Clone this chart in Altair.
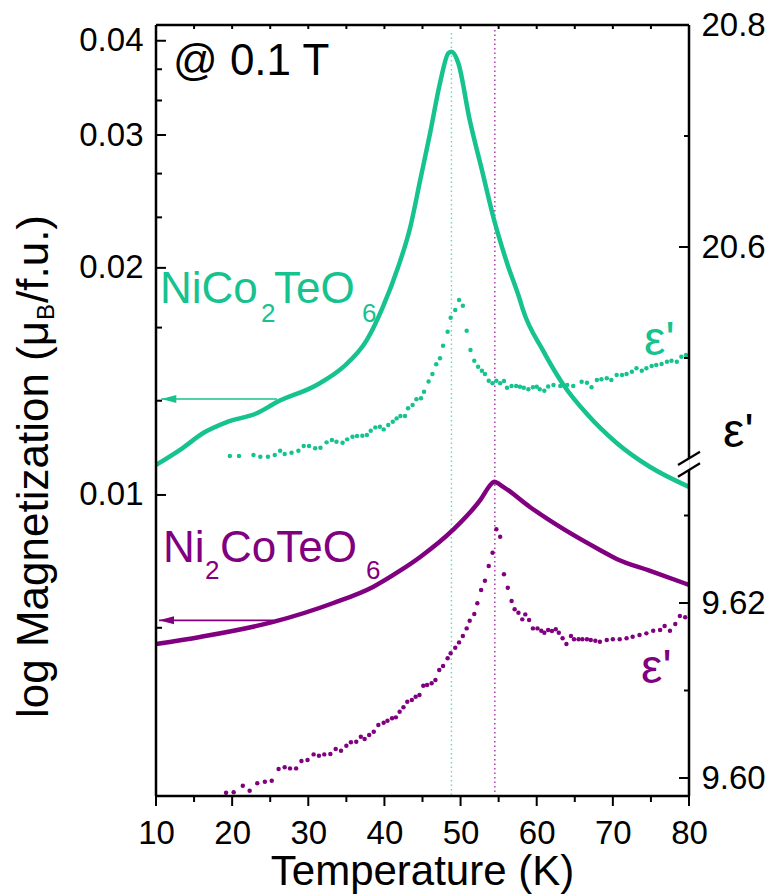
import altair as alt
import pandas as pd

# ---------------- data ----------------
# Magnetization (log scale, left axis), NiCo2TeO6
T_NICO_M = [10, 13.5, 16.2, 19.3, 23.3, 25.9, 31.1, 34.6, 37.7, 39.8, 41.8, 43.4, 44.7, 46.0,
            47.3, 48.4, 48.8, 49.7, 51.2, 52.8, 54.3, 56.1, 57.8, 58.2, 60.8, 63.5, 66.6, 70.5, 74.9, 80]
M_NICO = [0.01096, 0.01154, 0.01208, 0.01249, 0.01284, 0.01328, 0.01399, 0.01478, 0.01605, 0.01775,
          0.02005, 0.02266, 0.02615, 0.03018, 0.03516, 0.03852, 0.03868, 0.03737, 0.0314, 0.02697,
          0.02336, 0.0203, 0.01813, 0.01759, 0.01556, 0.01400, 0.01280, 0.01172, 0.01089, 0.01025]

# Magnetization, Ni2CoTeO6
T_NI2_M = [10, 15.8, 25.4, 33.3, 38.5, 42.0, 44.7, 49.0, 52.6, 54.1, 54.4, 55.6, 59.1, 63.7,
           68.3, 70.5, 74.9, 80]
M_NI2 = [0.006347, 0.006484, 0.006787, 0.007191, 0.007553, 0.00793, 0.008276, 0.008987, 0.009849,
         0.01036, 0.01041, 0.01025, 0.00964, 0.008987, 0.008454, 0.008226, 0.007931, 0.00760]

# Dielectric constant eps' of NiCo2TeO6 (upper segment of right axis)
T_NICO_EPS = [19.7, 20.9, 22.8, 23.7, 24.7, 25.6, 26.3, 26.9, 27.8, 28.7, 29.4, 30.1, 30.9, 31.6,
              32.4, 33.1, 33.7, 34.5, 35.1, 35.8, 36.4, 37.1, 37.7, 38.2, 38.8, 39.4, 39.9, 40.5,
              41.1, 41.6, 42.1, 42.7, 43.1, 43.7, 44.2, 44.8, 45.2, 45.8, 46.3, 46.8, 47.3, 47.7,
              48.3, 48.7, 49.3, 49.8, 50.3, 50.8, 51.3, 51.8, 52.3, 52.8, 53.2, 53.7, 54.2, 54.7,
              55.2, 55.7, 56.1, 56.7, 57.3, 57.8, 58.3, 58.9, 59.5, 60.0, 60.4, 61.0, 61.5, 62.2,
              63.1, 64.0, 64.8, 65.9, 66.6, 67.2, 67.9, 68.5, 69.2, 69.8, 70.5, 71.2, 71.8, 72.5,
              73.1, 73.8, 74.4, 75.1, 75.7, 76.4, 77.1, 77.7, 78.4, 79.0, 79.6]
EPS_NICO = [20.4117, 20.4117, 20.4126, 20.4111, 20.4111, 20.4126, 20.4165, 20.4135, 20.4147, 20.4165,
            20.4207, 20.4207, 20.4186, 20.4192, 20.4240, 20.4261, 20.4246, 20.4237, 20.4267, 20.4291,
            20.4297, 20.4300, 20.4306, 20.4345, 20.4375, 20.4381, 20.4357, 20.4396, 20.4426, 20.4456,
            20.4477, 20.4477, 20.4547, 20.4576, 20.4628, 20.4637, 20.4696, 20.4788, 20.4856, 20.4943,
            20.4997, 20.5111, 20.5237, 20.5363, 20.5432, 20.5522, 20.5471, 20.5246, 20.5072, 20.4975,
            20.4921, 20.4885, 20.4856, 20.4795, 20.4772, 20.4795, 20.4772, 20.4793, 20.4732, 20.4748,
            20.4748, 20.4741, 20.4732, 20.4718, 20.4736, 20.4741, 20.4718, 20.4705, 20.4743, 20.4757,
            20.4748, 20.4757, 20.4748, 20.4786, 20.4777, 20.4736, 20.4802, 20.4808, 20.4817, 20.4802,
            20.4847, 20.4847, 20.4856, 20.4876, 20.4907, 20.4885, 20.4907, 20.4928, 20.4937, 20.4946,
            20.4966, 20.4975, 20.4966, 20.5012, 20.5027]

# Dielectric constant eps' of Ni2CoTeO6 (lower segment of right axis)
T_NI2_EPS = [19.2, 20.2, 21.4, 22.3, 23.3, 24.3, 25.2, 26.1, 26.9, 27.6, 28.4, 29.1, 29.9, 30.7,
             31.4, 32.1, 32.9, 33.6, 34.3, 35.0, 35.6, 36.3, 36.9, 37.4, 38.0, 38.6, 39.2, 39.9,
             40.4, 41.0, 41.5, 42.0, 42.5, 43.0, 43.6, 44.1, 44.6, 45.1, 45.6, 46.2, 46.7, 47.2,
             47.7, 48.3, 48.7, 49.3, 49.8, 50.3, 50.8, 51.2, 51.8, 52.2, 52.7, 53.2, 53.7, 54.2,
             54.7, 55.2, 55.7, 56.2, 56.7, 57.1, 57.6, 58.1, 58.5, 59.0, 59.5, 60.1, 60.6, 61.0,
             61.5, 62.0, 62.5, 62.9, 63.4, 63.9, 64.5, 64.9, 65.5, 66.0, 66.6, 67.1, 67.7, 68.3,
             69.2, 70.0, 70.9, 71.8, 72.6, 73.5, 74.4, 75.3, 76.2, 76.8, 77.5, 78.2, 78.8, 79.5]
EPS_NI2 = [9.59832, 9.59836, 9.59912, 9.59854, 9.59939, 9.59957, 9.59969, 9.60102, 9.60122, 9.60110,
           9.60110, 9.60194, 9.60205, 9.60270, 9.60254, 9.60270, 9.60274, 9.60331, 9.60312, 9.60369,
           9.60408, 9.60414, 9.60472, 9.60445, 9.60491, 9.60529, 9.60605, 9.60632, 9.60654, 9.60682,
           9.60693, 9.60757, 9.60808, 9.60872, 9.60891, 9.60929, 9.60948, 9.61054, 9.61062, 9.61082,
           9.61120, 9.61234, 9.61280, 9.61368, 9.61425, 9.61489, 9.61550, 9.61622, 9.61710, 9.61797,
           9.61874, 9.61996, 9.62148, 9.62254, 9.62422, 9.62574, 9.62842, 9.62757, 9.62328, 9.62174,
           9.62022, 9.61928, 9.61889, 9.61813, 9.61870, 9.61805, 9.61710, 9.61710, 9.61683, 9.61660,
           9.61691, 9.61680, 9.61699, 9.61660, 9.61596, 9.61531, 9.61622, 9.61585, 9.61585, 9.61585,
           9.61585, 9.61577, 9.61569, 9.61557, 9.61577, 9.61585, 9.61585, 9.61596, 9.61614, 9.61634,
           9.61653, 9.61683, 9.61691, 9.61737, 9.61683, 9.61760, 9.61851, 9.61836]

# transition temperatures (dotted guides)
T_C_NICO = [48.8]
T_C_NI2 = [54.5]

# arrows pointing to the left axis
ARROW_T_NICO = [10.7, 25.9]
ARROW_M_NICO = [0.0134, 0.0134]
ARROW_T_NI2 = [10.4, 25.4]
ARROW_M_NI2 = [0.00682, 0.00682]

# tick values
X_MAJOR = [10, 20, 30, 40, 50, 60, 70, 80]
X_MINOR = [15, 25, 35, 45, 55, 65, 75]
X_TOP = [15, 20, 25, 30, 35, 40, 45, 50, 55, 60, 65, 70, 75]
M_MAJOR = [0.01, 0.02, 0.03, 0.04]
M_MINOR = [0.006667, 0.013333, 0.016667, 0.023333, 0.026667, 0.033333, 0.036667]
EPS_UP_MAJOR = [20.6, 20.8]
EPS_UP_MINOR = [20.5, 20.7]
EPS_LO_MAJOR = [9.60, 9.62]
EPS_LO_MINOR = [9.61, 9.63]

# ---------------- style ----------------
GREEN = "#16C28E"
GREEN_LIGHT = "#5FDDB8"
PURPLE = "#800080"
PURPLE_LIGHT = "#A020A0"
FONT = "Liberation Sans"
W, H = 533, 771
LABEL_SIZE = 33

dummy = pd.DataFrame({"k": [0]})

x_scale = alt.Scale(domain=[10, 80], nice=False, zero=False)
x_axis = alt.Axis(values=X_MAJOR, format="d", ticks=False, tickSize=0, domain=False, grid=False,
                  labelFontSize=LABEL_SIZE, labelFont=FONT, labelColor="black", labelPadding=21,
                  labelFlush=False, labelOverlap=False, title=None)
X = alt.X("T:Q", scale=x_scale, axis=x_axis)

# ---- magnetization (log) ----
m_scale = alt.Scale(type="log", domain=[0.00399, 0.04197], nice=False)
m_axis = alt.Axis(values=M_MAJOR, format=".2f", orient="left", ticks=False, tickSize=0, domain=False,
                  grid=False, labelFontSize=LABEL_SIZE, labelFont=FONT, labelColor="black",
                  labelPadding=13, labelFlush=False, labelOverlap=False, title=None)
YM = alt.Y("M:Q", scale=m_scale, axis=m_axis)

df_nico_m = pd.DataFrame({"T": T_NICO_M, "M": M_NICO})
df_ni2_m = pd.DataFrame({"T": T_NI2_M, "M": M_NI2})

line_nico = alt.Chart(df_nico_m).mark_line(color=GREEN, strokeWidth=4.5, interpolate="monotone").encode(x=X, y=YM)
line_ni2 = alt.Chart(df_ni2_m).mark_line(color=PURPLE, strokeWidth=4.5, interpolate="monotone").encode(x=X, y=YM)

ARROW_SHAPE = "M0,0L4,-1.07L4,1.07Z"
def arrow(ts, ms, color):
    df = pd.DataFrame({"T": ts, "M": ms})
    shaft = alt.Chart(df).mark_line(color=color, strokeWidth=1.6).encode(x=X, y=YM)
    head = alt.Chart(df.iloc[[0]]).mark_point(shape=ARROW_SHAPE, filled=True, size=56, color=color,
                                              opacity=1, strokeWidth=0).encode(x=X, y=YM)
    return [shaft, head]

m_ticks_major = alt.Chart(pd.DataFrame({"M": M_MAJOR})).mark_rule(color="black", strokeWidth=2).encode(
    y=YM, x=alt.value(0), x2=alt.value(10))
m_ticks_minor = alt.Chart(pd.DataFrame({"M": M_MINOR})).mark_rule(color="black", strokeWidth=2).encode(
    y=YM, x=alt.value(0), x2=alt.value(6))

# x ticks
x_ticks_major = alt.Chart(pd.DataFrame({"T": X_MAJOR})).mark_rule(color="black", strokeWidth=2).encode(
    x=X, y=alt.value(H), y2=alt.value(H + 10))
x_ticks_minor = alt.Chart(pd.DataFrame({"T": X_MINOR})).mark_rule(color="black", strokeWidth=2).encode(
    x=X, y=alt.value(H), y2=alt.value(H + 6))
x_ticks_top = alt.Chart(pd.DataFrame({"T": X_TOP})).mark_rule(color="black", strokeWidth=2).encode(
    x=X, y=alt.value(0), y2=alt.value(4))

# frame
def seg(x1, y1, x2, y2, color="black", width=2.5):
    return alt.Chart(dummy).mark_rule(color=color, strokeWidth=width).encode(
        x=alt.value(x1), y=alt.value(y1), x2=alt.value(x2), y2=alt.value(y2))

frame = [
    seg(0, 0, 0, H), seg(0, H, W, H), seg(0, 0, W, 0),
    seg(W, 0, W, 433), seg(W, 445, W, H),
    seg(522, 440, 544, 426.7, width=2.2), seg(522, 451.7, 544, 438.3, width=2.2),
]

def txt(s, x, y, size, color="black", angle=0, align="left"):
    return alt.Chart(dummy).mark_text(text=s, font=FONT, fontSize=size, color=color, align=align,
                                      baseline="alphabetic", angle=angle).encode(
        x=alt.value(x), y=alt.value(y))

texts = [
    txt("@ 0.1 T", 17, 50, 44),
    txt("NiCo", 4, 278, 44, GREEN), txt("2", 105, 297, 26, GREEN),
    txt("TeO", 118, 278, 44, GREEN), txt("6", 206, 297, 26, GREEN),
    txt("Ni", 7, 537, 44, PURPLE), txt("2", 49, 554, 26, PURPLE),
    txt("CoTeO", 64, 537, 44, PURPLE), txt("6", 210, 554, 26, PURPLE),
    txt("ε'", 488, 330, 48, GREEN),
    txt("ε'", 485, 658, 48, PURPLE),
    txt("ε'", 567, 422, 48, "black"),
    txt("Temperature (K)", W / 2, 860, 42, align="center"),
    txt("log Magnetization (μ", -108, 693, 44, angle=270),
    txt("B", -102, 295, 24, angle=270),
    txt("/f.u.)", -108, 278, 44, angle=270),
]

group_m = alt.layer(line_ni2, line_nico, *arrow(ARROW_T_NICO, ARROW_M_NICO, GREEN),
                    *arrow(ARROW_T_NI2, ARROW_M_NI2, PURPLE), m_ticks_major, m_ticks_minor,
                    x_ticks_major, x_ticks_minor, x_ticks_top, *frame, *texts)

# ---- eps' upper (NiCo2TeO6) ----
up_scale = alt.Scale(domain=[20.10541, 20.8], nice=False, zero=False)
up_axis = alt.Axis(values=EPS_UP_MAJOR, format=".1f", orient="right", ticks=False, tickSize=0,
                   domain=False, grid=False, labelFontSize=LABEL_SIZE, labelFont=FONT,
                   labelColor="black", labelPadding=12, labelFlush=False, labelOverlap=False, title=None)
YU = alt.Y("eps:Q", scale=up_scale, axis=up_axis)
vline_nico = alt.Chart(pd.DataFrame({"T": T_C_NICO})).mark_rule(
    color=GREEN_LIGHT, strokeWidth=1.4, strokeDash=[1.5, 3]).encode(x=X, y=alt.value(8), y2=alt.value(H))
vline_ni2 = alt.Chart(pd.DataFrame({"T": T_C_NI2})).mark_rule(
    color=PURPLE_LIGHT, strokeWidth=1.3, strokeDash=[1.5, 3]).encode(x=X, y=alt.value(5), y2=alt.value(H))
dots_nico = alt.Chart(pd.DataFrame({"T": T_NICO_EPS, "eps": EPS_NICO})).mark_circle(
    size=20, color=GREEN, opacity=1).encode(x=X, y=YU)
up_ticks_major = alt.Chart(pd.DataFrame({"eps": EPS_UP_MAJOR})).mark_rule(color="black", strokeWidth=2).encode(
    y=YU, x=alt.value(W - 10), x2=alt.value(W))
up_ticks_minor = alt.Chart(pd.DataFrame({"eps": EPS_UP_MINOR})).mark_rule(color="black", strokeWidth=2).encode(
    y=YU, x=alt.value(W - 5), x2=alt.value(W))
group_up = alt.layer(vline_nico, vline_ni2, dots_nico, up_ticks_major, up_ticks_minor)

# ---- eps' lower (Ni2CoTeO6) ----
lo_scale = alt.Scale(domain=[9.597943, 9.686057], nice=False, zero=False)
lo_axis = alt.Axis(values=EPS_LO_MAJOR, format=".2f", orient="right", ticks=False, tickSize=0,
                   domain=False, grid=False, labelFontSize=LABEL_SIZE, labelFont=FONT,
                   labelColor="black", labelPadding=12, labelFlush=False, labelOverlap=False, title=None)
YL = alt.Y("eps:Q", scale=lo_scale, axis=lo_axis)
dots_ni2 = alt.Chart(pd.DataFrame({"T": T_NI2_EPS, "eps": EPS_NI2})).mark_circle(
    size=20, color=PURPLE, opacity=1).encode(x=X, y=YL)
lo_ticks_major = alt.Chart(pd.DataFrame({"eps": EPS_LO_MAJOR})).mark_rule(color="black", strokeWidth=2).encode(
    y=YL, x=alt.value(W - 10), x2=alt.value(W))
lo_ticks_minor = alt.Chart(pd.DataFrame({"eps": EPS_LO_MINOR})).mark_rule(color="black", strokeWidth=2).encode(
    y=YL, x=alt.value(W - 5), x2=alt.value(W))
group_lo = alt.layer(dots_ni2, lo_ticks_major, lo_ticks_minor)

chart = alt.layer(group_up, group_lo, group_m).resolve_scale(y="independent").properties(
    width=W, height=H,
    padding={"left": 156, "top": 25, "right": 775 - 156 - W, "bottom": 894 - 25 - H},
    autosize=alt.AutoSizeParams(type="none"),
).configure_view(stroke=None).configure(background="white")

chart.save("out.html", embed_options={"renderer": "svg", "actions": False})
